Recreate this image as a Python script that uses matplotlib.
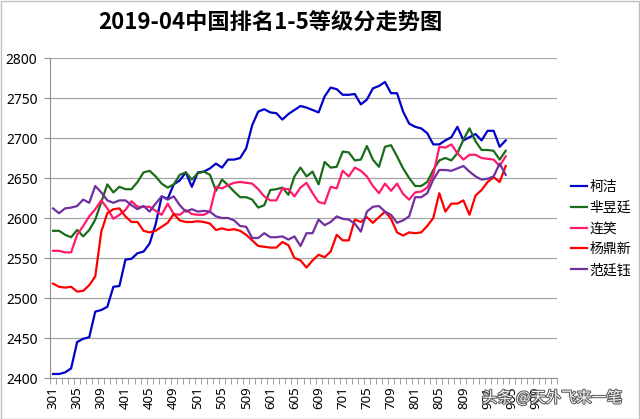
import numpy as np
import matplotlib
matplotlib.use("Agg")
import matplotlib.pyplot as plt
import matplotlib.patheffects as pe
from matplotlib.patches import Rectangle

plt.rcParams['font.family'] = ['Noto Sans CJK SC', 'DejaVu Sans']

# monthly ratings, 2013-01 .. 2019-04
ke_jie = [2405, 2405, 2407, 2412, 2445, 2449, 2451, 2483, 2485, 2489,
          2514, 2515, 2548, 2549, 2556, 2558, 2568, 2592, 2627, 2624,
          2642, 2647, 2657, 2639, 2657, 2658, 2662, 2668, 2663, 2673,
          2673, 2675, 2687, 2716, 2733, 2736, 2732, 2731, 2723, 2730,
          2735, 2740, 2738, 2735, 2732, 2752, 2763, 2761, 2754, 2754,
          2755, 2742, 2748, 2762, 2765, 2770, 2756, 2756, 2733, 2718,
          2714, 2712, 2706, 2692, 2692, 2697, 2701, 2714, 2697, 2701,
          2705, 2697, 2709, 2709, 2689, 2697]
mi_yuting = [2584, 2584, 2579, 2576, 2585, 2577, 2585, 2598, 2620, 2642,
             2632, 2639, 2636, 2636, 2645, 2657, 2659, 2652, 2643, 2638,
             2642, 2654, 2657, 2648, 2656, 2658, 2654, 2634, 2648, 2641,
             2633, 2626, 2626, 2623, 2613, 2616, 2635, 2636, 2638, 2629,
             2652, 2663, 2652, 2658, 2642, 2670, 2663, 2664, 2683, 2682,
             2672, 2673, 2690, 2673, 2664, 2689, 2691, 2677, 2662, 2650,
             2640, 2640, 2645, 2660, 2672, 2675, 2672, 2681, 2698, 2712,
             2696, 2685, 2685, 2684, 2673, 2684]
lian_xiao = [2559, 2559, 2557, 2557, 2579, 2590, 2602, 2611, 2622, 2612,
             2599, 2604, 2610, 2621, 2614, 2614, 2614, 2609, 2604, 2618,
             2605, 2604, 2610, 2605, 2604, 2604, 2608, 2639, 2637, 2641,
             2644, 2645, 2644, 2643, 2636, 2627, 2622, 2622, 2637, 2636,
             2627, 2638, 2644, 2631, 2620, 2618, 2639, 2637, 2659, 2652,
             2663, 2659, 2652, 2640, 2631, 2643, 2634, 2643, 2630, 2623,
             2632, 2633, 2638, 2654, 2689, 2688, 2692, 2681, 2673, 2679,
             2679, 2675, 2674, 2673, 2665, 2677]
yang_dingxin = [2518, 2514, 2513, 2514, 2508, 2509, 2516, 2527, 2583, 2606,
                2611, 2612, 2602, 2595, 2595, 2584, 2582, 2584, 2589, 2594,
                2605, 2597, 2595, 2595, 2596, 2595, 2593, 2585, 2587, 2585,
                2586, 2584, 2579, 2572, 2565, 2564, 2563, 2563, 2570, 2566,
                2550, 2547, 2538, 2547, 2554, 2551, 2558, 2579, 2572, 2572,
                2598, 2595, 2601, 2594, 2601, 2608, 2599, 2582, 2578, 2582,
                2581, 2582, 2590, 2600, 2631, 2608, 2618, 2618, 2622, 2604,
                2628, 2635, 2645, 2651, 2645, 2665]
fan_tingyu = [2612, 2606, 2612, 2613, 2615, 2623, 2619, 2640, 2632, 2622,
              2619, 2622, 2622, 2616, 2611, 2615, 2608, 2618, 2627, 2623,
              2627, 2616, 2608, 2611, 2608, 2609, 2608, 2602, 2600, 2600,
              2597, 2590, 2589, 2575, 2575, 2581, 2576, 2576, 2577, 2573,
              2577, 2565, 2581, 2581, 2598, 2591, 2595, 2602, 2599, 2598,
              2593, 2583, 2608, 2614, 2615, 2608, 2604, 2594, 2597, 2602,
              2626, 2626, 2631, 2648, 2660, 2660, 2659, 2662, 2665, 2658,
              2652, 2648, 2649, 2652, 2668, 2654]

names = ['柯洁', '芈昱廷', '连笑', '杨鼎新', '范廷钰']
colors = ['#0000c8', '#1a6b1a', '#ff1a6e', '#ff0000', '#7030a0']

# category axis runs 301..912, label every 4th month
n_categories = 84
tick_labels = ['301', '305', '309', '401', '405', '409', '501', '505', '509',
               '601', '605', '609', '701', '705', '709', '801', '805', '809',
               '901', '905', '909']


def main():
    fig = plt.figure(figsize=(6.4, 4.19), dpi=100)
    ax = fig.add_axes([50/640, 1-378/419, 507/640, 320/419])

    series = [ke_jie, mi_yuting, lian_xiao, yang_dingxin, fan_tingyu]
    for vals, name, c in zip(series, names, colors):
        x = np.arange(len(vals)) + 0.5
        ax.plot(x, vals, color=c, lw=1.6, label=name, solid_joinstyle='round')

    ax.set_xlim(0, n_categories)
    ax.set_ylim(2400, 2800)
    ax.set_yticks(np.arange(2400, 2801, 50))
    ax.set_xticks(np.arange(len(tick_labels))*4 + 0.5)
    ax.set_xticklabels(tick_labels, rotation=90, fontsize=9.5, family='Noto Sans')
    ax.set_xticks(np.arange(0, n_categories+1), minor=True)
    ax.tick_params(axis='x', which='major', length=0, pad=6)
    ax.tick_params(axis='x', which='minor', length=4, color='#909090', direction='out')
    ax.tick_params(axis='y', length=4, color='#909090', pad=5)
    for lab in ax.get_yticklabels():
        lab.set_fontsize(10)
        lab.set_family('Noto Sans')

    ax.grid(axis='y', color='#a6a6a6', lw=0.9)
    ax.set_axisbelow(True)
    for s in ['top', 'right']:
        ax.spines[s].set_visible(False)
    ax.spines['left'].set_color('#909090')
    ax.spines['bottom'].set_color('#909090')

    fig.text(270/640, 1-22/419, '2019-04中国排名1-5等级分走势图', ha='center', va='center',
             fontsize=16, fontweight='black')

    ax.legend(loc='upper left', bbox_to_anchor=(558/640, 1-167/419),
              bbox_transform=fig.transFigure, frameon=False, fontsize=10,
              handlelength=1.2, handletextpad=0.15, labelspacing=0.5)

    fig.text(552/640, 1-398/419, '头条 @天外飞来一笔', ha='center', va='center',
             fontsize=11, color='white', alpha=0.95,
             path_effects=[pe.withStroke(linewidth=1.5, foreground='#555555')])

    fig.patches.append(Rectangle((0.001, 0.001), 0.998, 0.997, transform=fig.transFigure,
                                 fill=False, edgecolor='#bfbfbf', lw=1))
    fig.savefig('out.png', dpi=100)


if __name__ == '__main__':
    main()
